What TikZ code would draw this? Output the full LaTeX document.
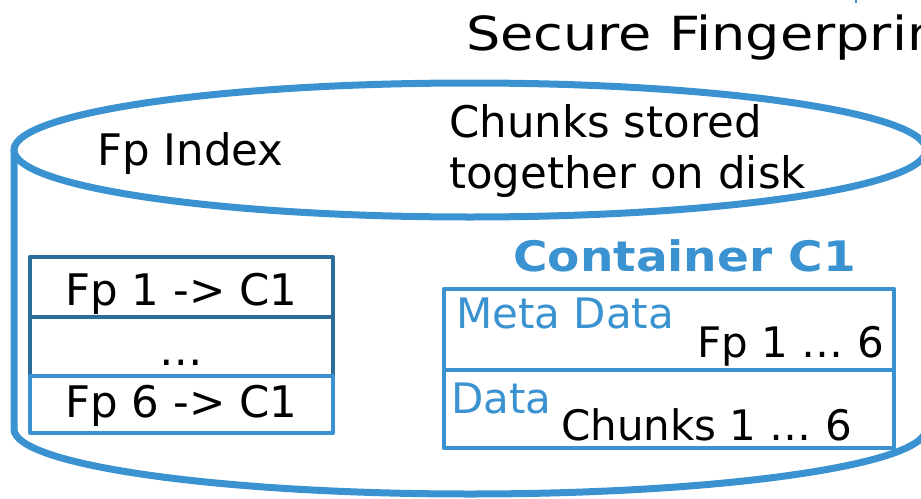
\documentclass[tikz,border=0pt]{standalone}
\usepackage{fontspec}
\setmainfont{DejaVu Sans}
\newfontfamily\widetitle[FakeStretch=1.15]{DejaVu Sans}
\newfontfamily\wideheadfont[FakeStretch=1.12]{DejaVu Sans Bold}
\definecolor{diskblue}{RGB}{58,146,208}
\definecolor{rowblue}{RGB}{44,108,152}
\begin{document}
\begin{tikzpicture}[x=1pt,y=-1pt,
  disk/.style={draw=diskblue, line width=7pt},
  rowbox/.style={draw=rowblue, line width=4.5pt, inner sep=0pt, line join=round},
  lightbox/.style={draw=diskblue, line width=4.5pt, inner sep=0pt, line join=round},
  lbl/.style={inner sep=0pt, text=black, font=\fontsize{43.5}{50}\selectfont},
  celllbl/.style={inner sep=0pt, text=black, font=\fontsize{42}{50}\selectfont},
  bluelbl/.style={inner sep=0pt, text=diskblue, font=\fontsize{42}{50}\selectfont},
  title/.style={inner sep=0pt, text=black, font=\widetitle\fontsize{47}{52}\selectfont},
  head/.style={inner sep=0pt, text=diskblue, font=\wideheadfont\fontsize{42}{50}\selectfont}]
\useasboundingbox (0,0) rectangle (921,498);
\clip (0,0) rectangle (921,498);

% title and the small mark above it
\node[title, anchor=base west] (title) at (466,50) {Secure Fingerprin};
\draw[diskblue, line width=2pt] (856,0) -- (856,3);

% disk cylinder: body, then the top face
\draw[disk] (14,150) -- (14,429) arc[start angle=180, end angle=0, x radius=456, y radius=65] -- (926,150);
\draw[disk, fill=white] (470,150) ellipse [x radius=456, y radius=67];

\node[lbl, anchor=base west] (fpidx) at (97,165) {Fp Index};
\node[lbl, anchor=base west] (stored1) at (449,137) {Chunks stored};
\node[lbl, anchor=base west] (stored2) at (449,188) {together on disk};

% fingerprint index table
\node[rowbox, minimum width=303, minimum height=60] (r1) at (181.5,287) {};
\node[rowbox, minimum width=303, minimum height=59] (r2) at (181.5,346.5) {};
\node[lightbox, minimum width=303, minimum height=57] (r3) at (181.5,404.5) {};
\node[lbl, anchor=base] (t1) at (r1.center |- 0,305) {Fp 1 -> C1};
\node[lbl, anchor=base] (t2) at (r2.center |- 0,365) {…};
\node[lbl, anchor=base] (t3) at (r3.center |- 0,417) {Fp 6 -> C1};

% container C1
\node[head, anchor=base west] (cname) at (513,271) {Container C1};
\node[lightbox, minimum width=450, minimum height=81] (meta) at (669,329.5) {};
\node[lightbox, minimum width=450, minimum height=78] (data) at (669,409) {};
\node[bluelbl, anchor=base west] (metalbl) at (456,328) {Meta Data};
\node[celllbl, anchor=base east] (fps) at (884,357) {Fp 1 …  6};
\node[bluelbl, anchor=base west] (datalbl) at (451,413) {Data};
\node[celllbl, anchor=base west] (chunks) at (561,440) {Chunks 1 … 6};
\end{tikzpicture}
\end{document}
